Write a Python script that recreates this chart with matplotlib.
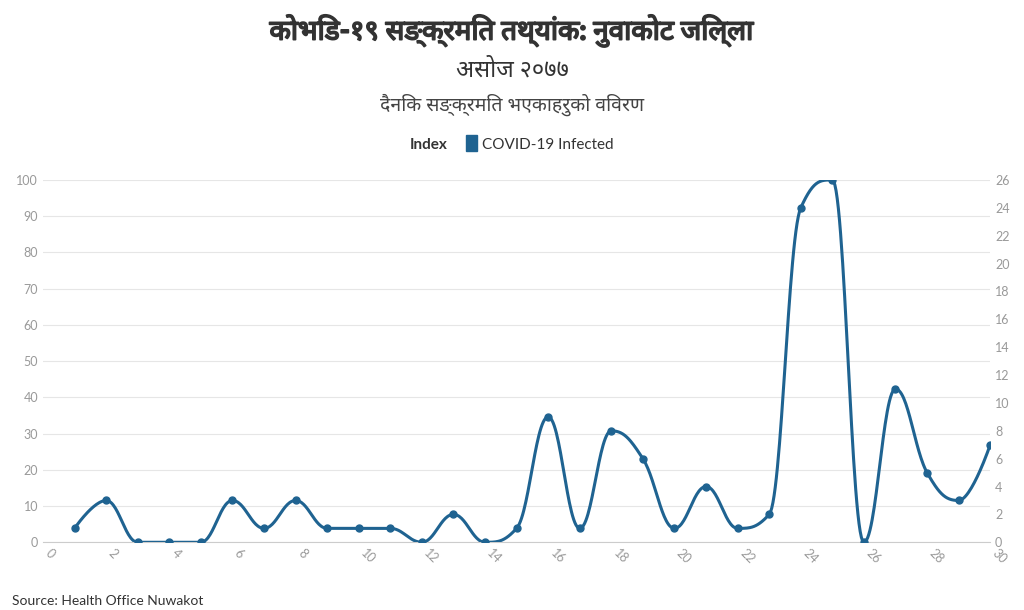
import numpy as np
import matplotlib.pyplot as plt
import matplotlib.patheffects as pe

plt.rcParams['font.family'] = ['Source Sans Pro', 'Lato', 'Noto Sans', 'DejaVu Sans']

days = list(range(1, 31))
infected = [1, 3, 0, 0, 0, 3, 1, 3, 1, 1, 1, 0, 2, 0, 1, 9, 1, 8, 6, 1,
            4, 1, 2, 24, 26, 0, 11, 5, 3, 7]
title = "कोभिड-१९ सङ्क्रमित तथ्यांक: नुवाकोट जिल्ला"
subtitle = "असोज २०७७"
subtitle2 = "दैनिक सङ्क्रमित भएकाहरुको विवरण"
color = "#1f6391"


def smooth(x, y, n=30):
    # highcharts-style spline: bezier with clamped control points
    x = np.asarray(x, float)
    y = np.asarray(y, float)
    m = len(x)
    lc = np.zeros((m, 2))
    rc = np.zeros((m, 2))
    lc[0] = rc[0] = (x[0], y[0])
    lc[-1] = rc[-1] = (x[-1], y[-1])
    for i in range(1, m - 1):
        lx = (1.5 * x[i] + x[i - 1]) / 2.5
        ly = (1.5 * y[i] + y[i - 1]) / 2.5
        rx = (1.5 * x[i] + x[i + 1]) / 2.5
        ry = (1.5 * y[i] + y[i + 1]) / 2.5
        corr = (ry - ly) * (rx - x[i]) / (rx - lx) + y[i] - ry
        ly += corr
        ry += corr
        hi = max(y[i - 1], y[i])
        lo = min(y[i - 1], y[i])
        if ly > hi:
            ly = hi
            ry = 2 * y[i] - ly
        elif ly < lo:
            ly = lo
            ry = 2 * y[i] - ly
        hi = max(y[i + 1], y[i])
        lo = min(y[i + 1], y[i])
        if ry > hi:
            ry = hi
            ly = 2 * y[i] - ry
        elif ry < lo:
            ry = lo
            ly = 2 * y[i] - ry
        lc[i] = (lx, ly)
        rc[i] = (rx, ry)
    t = np.linspace(0, 1, n)[:, None]
    pts = []
    for i in range(m - 1):
        p0 = np.array([x[i], y[i]])
        p3 = np.array([x[i + 1], y[i + 1]])
        p1, p2 = rc[i], lc[i + 1]
        pts.append((1 - t) ** 3 * p0 + 3 * (1 - t) ** 2 * t * p1
                   + 3 * (1 - t) * t ** 2 * p2 + t ** 3 * p3)
    pts = np.vstack(pts)
    return pts[:, 0], pts[:, 1]


fig = plt.figure(figsize=(10.24, 6.10), dpi=100)
ax = fig.add_axes([0.042, 0.111, 0.925, 0.594])
ax2 = ax.twinx()

sx, sy = smooth(days, infected)
ax2.plot(sx, sy, color=color, lw=2.2)
ax2.plot(days, infected, 'o', color=color, ms=5)
ax2.set_ylim(0, 26)
ax2.set_yticks(range(0, 27, 2))
ax.set_ylim(0, 100)
ax.set_yticks(range(0, 101, 10))
ax.set_xlim(0, 30)
ax.set_xticks(range(0, 31, 2))
ax.grid(axis='y', color='#e6e6e6', lw=0.8)
for a in (ax, ax2):
    for s in a.spines.values():
        s.set_visible(False)
    a.tick_params(length=0, labelsize=9, colors='#999999')
ax.spines['bottom'].set_visible(True)
ax.spines['bottom'].set_color('#cccccc')
for lab in ax.get_xticklabels():
    lab.set_rotation(-45)
    lab.set_ha('left')

t = fig.text(0.5, 0.935, title, ha='center', fontsize=20, fontweight='bold', color='#333333')
t.set_path_effects([pe.withStroke(linewidth=1.2, foreground='#333333')])
fig.text(0.5, 0.875, subtitle, ha='center', fontsize=17, color='#333333')
fig.text(0.5, 0.818, subtitle2, ha='center', fontsize=14, color='#444444')
fig.text(0.437, 0.755, "Index", ha='right', fontsize=11, fontweight='bold', color='#333333')
fig.patches.append(plt.Rectangle((0.455, 0.752), 0.011, 0.026, transform=fig.transFigure,
                                 color=color))
fig.text(0.471, 0.755, "COVID-19 Infected", fontsize=11, color='#333333')
fig.text(0.012, 0.008, "Source: Health Office Nuwakot", fontsize=10, color='#333333')
fig.savefig("out.png", dpi=100)
